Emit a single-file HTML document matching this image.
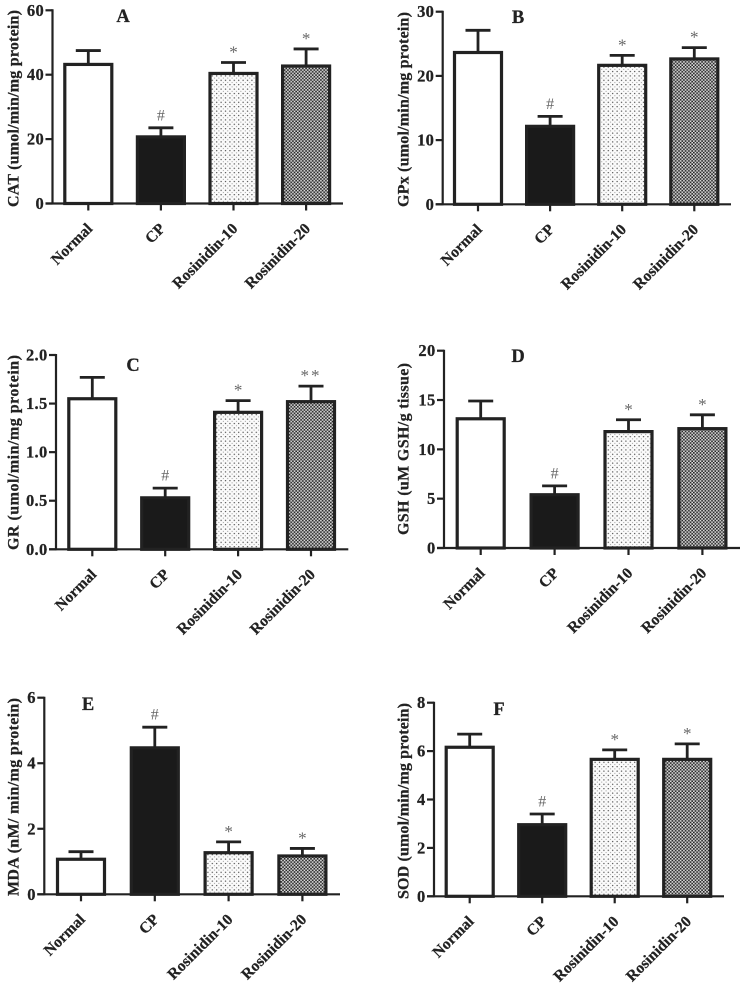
<!DOCTYPE html>
<html lang="en">
<head>
<meta charset="utf-8">
<title>Antioxidant markers, Rosinidin treatment</title>
<style>
html,body{margin:0;padding:0;background:#fff;}
body{width:749px;height:986px;overflow:hidden;}
svg{display:block;filter:blur(0.35px);}
text{font-family:"Liberation Serif",serif;}
text[font-weight="bold"]{stroke:#222;stroke-width:0.25px;}
</style>
</head>
<body>
<svg id="figure" xmlns="http://www.w3.org/2000/svg" width="749" height="986" viewBox="0 0 749 986">
<defs>
<pattern id="dots" patternUnits="userSpaceOnUse" width="4.4" height="4.4">
<rect width="4.4" height="4.4" fill="#fbfbfb"/>
<circle cx="1.1" cy="1.1" r="0.62" fill="#333"/>
<circle cx="3.3" cy="3.3" r="0.5" fill="#777"/>
</pattern>
<pattern id="checks" patternUnits="userSpaceOnUse" width="3.3" height="3.3">
<rect width="3.3" height="3.3" fill="#dcdcdc"/>
<rect x="0" y="0" width="1.65" height="1.65" fill="#262626"/>
<rect x="1.65" y="1.65" width="1.65" height="1.65" fill="#262626"/>
</pattern>
</defs>
</svg>
<script>
// ---- chart data ----
const categories = ['Normal', 'CP', 'Rosinidin-10', 'Rosinidin-20'];

const catValues = [43.5, 21, 40.7, 43];
const catErrors = [4, 2.5, 3.1, 5];
const catTicks = ['0', '20', '40', '60'];
const catMarks = ['', '#', '*', '*'];

const gpxValues = [23.8, 12.3, 21.8, 22.8];
const gpxErrors = [3.3, 1.4, 1.4, 1.6];
const gpxTicks = ['0', '10', '20', '30'];
const gpxMarks = ['', '#', '*', '*'];

const grValues = [1.56, 0.54, 1.42, 1.53];
const grErrors = [0.21, 0.09, 0.11, 0.15];
const grTicks = ['0.0', '0.5', '1.0', '1.5', '2.0'];
const grMarks = ['', '#', '*', '**'];

const gshValues = [13.2, 5.5, 11.9, 12.2];
const gshErrors = [1.7, 0.8, 1.1, 1.3];
const gshTicks = ['0', '5', '10', '15', '20'];
const gshMarks = ['', '#', '*', '*'];

const mdaValues = [1.1, 4.5, 1.3, 1.2];
const mdaErrors = [0.2, 0.6, 0.3, 0.2];
const mdaTicks = ['0', '2', '4', '6'];
const mdaMarks = ['', '#', '*', '*'];

const sodValues = [6.2, 3.0, 5.7, 5.7];
const sodErrors = [0.5, 0.4, 0.35, 0.6];
const sodTicks = ['0', '2', '4', '6', '8'];
const sodMarks = ['', '#', '*', '*'];

// ---- panel layout ----
const panels = [
  {key:'cat', letter:'A', title:'CAT (umol/min/mg protein)', values:catValues, errors:catErrors, ticks:catTicks, marks:catMarks,
   ax:52.5, top:10.3, base:203.5, end:343, first:88.3, step:72.6, lx:123, ly:22, tx:18.5, t0:207, t1:10},
  {key:'gpx', letter:'B', title:'GPx (umol/min/mg protein)', values:gpxValues, errors:gpxErrors, ticks:gpxTicks, marks:gpxMarks,
   ax:442.7, top:11.7, base:204.3, end:731, first:478, step:72.1, lx:518, ly:23, tx:408.5, t0:207, t1:12},
  {key:'gr', letter:'C', title:'GR  (umol/min/mg protein)', values:grValues, errors:grErrors, ticks:grTicks, marks:grMarks,
   ax:56, top:355, base:549.3, end:348.3, first:92.3, step:72.9, lx:133, ly:371, tx:18.5, t0:550, t1:355},
  {key:'gsh', letter:'D', title:'GSH (uM GSH/g tissue)', values:gshValues, errors:gshErrors, ticks:gshTicks, marks:gshMarks,
   ax:444, top:350.7, base:548, end:740, first:480.7, step:73.9, lx:518, ly:362, tx:408.5, t0:535, t1:363},
  {key:'mda', letter:'E', title:'MDA (nM/ min/mg protein)', values:mdaValues, errors:mdaErrors, ticks:mdaTicks, marks:mdaMarks,
   ax:44.3, top:697.7, base:894.3, end:340, first:81, step:73.8, lx:88, ly:710, tx:18.5, t0:896, t1:698},
  {key:'sod', letter:'F', title:'SOD (umol/min/mg protein)', values:sodValues, errors:sodErrors, ticks:sodTicks, marks:sodMarks,
   ax:434, top:702.7, base:896.3, end:724, first:469.7, step:72.5, lx:499, ly:715, tx:408.5, t0:899, t1:703}
];

const INK = '#222';
const NS = 'http://www.w3.org/2000/svg';
const svg = document.getElementById('figure');

function mk(parent, tag, attrs, txt) {
  const el = document.createElementNS(NS, tag);
  for (const k in attrs) el.setAttribute(k, attrs[k]);
  if (txt !== undefined) el.textContent = txt;
  parent.appendChild(el);
  return el;
}

panels.forEach(function (p) {
  const maxV = Number(p.ticks[p.ticks.length - 1]);
  const yScale = function (v) { return p.base - (v / maxV) * (p.base - p.top); };
  const xBand = function (i) { return p.first + p.step * i; };

  const g = mk(svg, 'g', {});
  
  

  // bars + error bars
  p.values.forEach(function (v, i) {
    const cx = xBand(i);
    const yTop = yScale(v);
    const yErr = yScale(v + p.errors[i]);
    const fills = ['#fff', '#1a1a1a', 'url(#dots)', 'url(#checks)'];

    const stem = mk(g, 'line', {x1:cx, x2:cx, y1:yTop, y2:yErr, stroke:INK, 'stroke-width':2.8});
    
    

    const cap = mk(g, 'line', {x1:cx - 12.5, x2:cx + 12.5, y1:yErr, y2:yErr, stroke:INK, 'stroke-width':2.8});
    
    

    const bar = mk(g, 'rect', {x:cx - 23.5, y:yTop + 1, width:47, height:Math.max(0, p.base - yTop - 1), fill:fills[i], stroke:INK, 'stroke-width':3.2});
    
    

    if (p.marks[i]) {
      const isHash = p.marks[i] === '#';
      const mark = mk(g, 'text', {x:cx, y:yErr - (isHash ? 7.5 : 5), 'text-anchor':'middle', 'font-size':isHash ? 16 : 17, fill:'#666', 'letter-spacing':p.marks[i] === '**' ? 2 : 0}, p.marks[i]);
      
      
    }
  });

  // axes
  const yAxis = mk(g, 'line', {x1:p.ax, x2:p.ax, y1:p.top - 1, y2:p.base + 1, stroke:INK, 'stroke-width':2.2});
  
  

  const xAxis = mk(g, 'line', {x1:p.ax - 7, x2:p.end, y1:p.base, y2:p.base, stroke:INK, 'stroke-width':2.2});
  
  

  p.ticks.forEach(function (t) {
    const y = yScale(Number(t));
    const tick = mk(g, 'line', {x1:p.ax - 7, x2:p.ax, y1:y, y2:y, stroke:INK, 'stroke-width':2.2});
    
    

    const label = mk(g, 'text', {x:p.ax - 8.5, y:y + 5.5, 'text-anchor':'end', 'font-size':16.5, 'font-weight':'bold', 'letter-spacing':0.3, fill:INK}, t);
    
    
  });

  categories.forEach(function (c, i) {
    const cx = xBand(i);
    const tick = mk(g, 'line', {x1:cx, x2:cx, y1:p.base, y2:p.base + 7, stroke:INK, 'stroke-width':2.2});
    
    

    const lx = cx + 5;
    const ly = p.base + 26;
    const label = mk(g, 'text', {x:0, y:0, transform:'translate(' + lx + ' ' + ly + ') rotate(-45)', 'text-anchor':'end', 'font-size':15.6, 'font-weight':'bold', fill:INK}, c);
    
    
  });

  const title = mk(g, 'text', {x:0, y:0, transform:'translate(' + p.tx + ' ' + p.t0 + ') rotate(-90)', 'font-size':16, 'font-weight':'bold', fill:INK, textLength:p.t0 - p.t1, lengthAdjust:'spacing'}, p.title);
  
  

  const letter = mk(g, 'text', {x:p.lx, y:p.ly, 'text-anchor':'middle', 'font-size':18.5, 'font-weight':'bold', fill:INK}, p.letter);
  
  
});
</script>
</body>
</html>
